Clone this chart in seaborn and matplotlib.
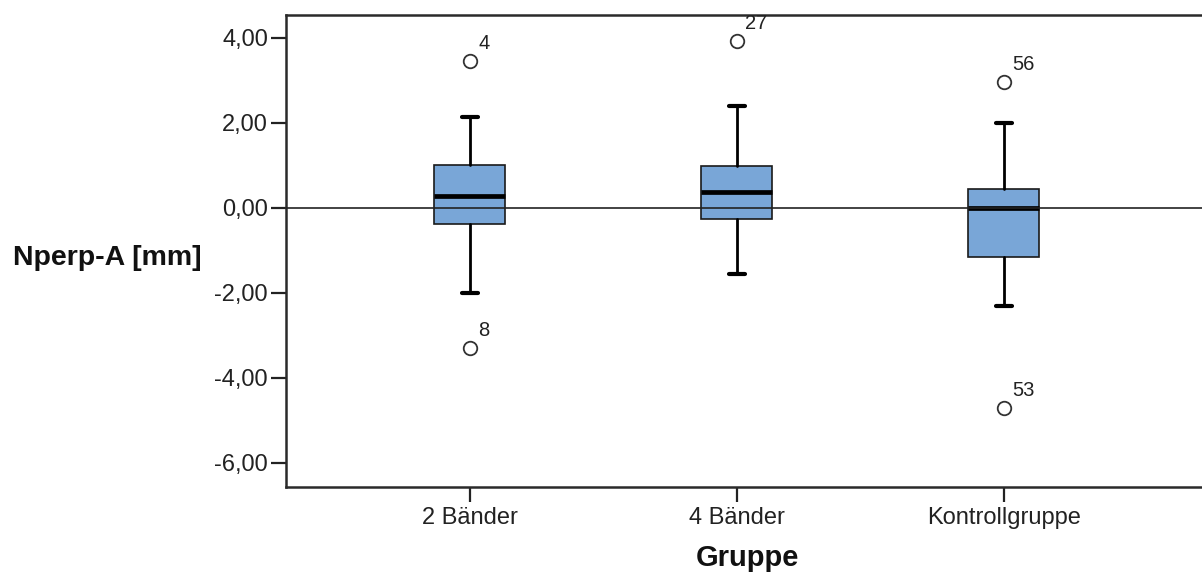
import matplotlib
matplotlib.use("Agg")
import matplotlib.pyplot as plt
import seaborn as sns
import pandas as pd
from matplotlib.ticker import FuncFormatter

# Group names and box-plot summaries (Nperp-A in mm)
groups = ["2 Bänder", "4 Bänder", "Kontrollgruppe"]
whisker_low = [-2.00, -1.55, -2.30]
q1 = [-0.38, -0.26, -1.16]
median = [0.28, 0.37, 0.00]
q3 = [1.01, 0.99, 0.45]
whisker_high = [2.14, 2.40, 2.00]

# Outlying cases with their case numbers
outlier_group = ["2 Bänder", "2 Bänder", "4 Bänder", "Kontrollgruppe", "Kontrollgruppe"]
outlier_value = [3.46, -3.29, 3.94, 2.97, -4.70]
outlier_case = ["4", "8", "27", "56", "53"]

y_ticks = [4.0, 2.0, 0.0, -2.0, -4.0, -6.0]

sns.set_style("white")
plt.rcParams["font.family"] = ["Liberation Sans", "DejaVu Sans"]

fig = plt.figure(figsize=(12.02, 5.80), dpi=100)
ax = fig.add_axes([286 / 1202, 1 - 487 / 580, 1 - 286 / 1202, (487 - 15) / 580])

positions = list(range(len(groups)))
stats = [
    dict(whislo=lo, q1=a, med=m, q3=b, whishi=hi, fliers=[], label=g)
    for g, lo, a, m, b, hi in zip(groups, whisker_low, q1, median, q3, whisker_high)
]
box_color = "#79A6D7"
ax.bxp(
    stats,
    positions=positions,
    widths=0.266,
    patch_artist=True,
    showfliers=False,
    boxprops=dict(facecolor=box_color, edgecolor="#1a1a1a", linewidth=1.2),
    medianprops=dict(color="black", linewidth=3.4, solid_capstyle="butt"),
    whiskerprops=dict(color="black", linewidth=2.0),
    capprops=dict(color="black", linewidth=3.0),
    capwidths=0.06,
    zorder=2,
)

# Reference line at zero
ax.axhline(0, color="#222222", linewidth=1.2, zorder=3)

# Outliers as open circles, labelled with case numbers
pos_of = {g: i for i, g in enumerate(groups)}
out_df = pd.DataFrame({
    "pos": [pos_of[g] for g in outlier_group],
    "value": outlier_value,
    "case": outlier_case,
})
sns.scatterplot(
    data=out_df, x="pos", y="value", ax=ax,
    marker="o", s=95, facecolor="white", edgecolor="#333333", linewidth=1.3,
    zorder=4, legend=False,
)
for _, r in out_df.iterrows():
    ax.annotate(
        r["case"], (r["pos"], r["value"]), xytext=(6.0, 12.5), textcoords="offset points",
        ha="left", va="center", fontsize=14.5, color="#222222",
    )

ax.set_xlim(-0.689, 2.742)
ax.set_ylim(-6.565, 4.541)
ax.set_xticks(positions)
ax.set_xticklabels(groups, fontsize=17, color="#222222")
ax.set_yticks(y_ticks)
ax.yaxis.set_major_formatter(FuncFormatter(lambda v, _: f"{v:.2f}".replace(".", ",")))
ax.tick_params(axis="y", labelsize=17, labelcolor="#222222", length=11, width=1.6,
               color="#222222", direction="out", left=True, pad=2)
ax.tick_params(axis="x", length=10.5, width=1.6, color="#222222", direction="out",
               bottom=True, pad=4)

for side in ["left", "bottom", "top"]:
    ax.spines[side].set_color("#2a2a2a")
    ax.spines[side].set_linewidth(1.8)
ax.spines["right"].set_visible(False)

ax.set_xlabel("Gruppe", fontsize=21, fontweight="bold", color="#111111")
ax.xaxis.set_label_coords((747 - 286) / (1202 - 286), -0.12)
ax.set_ylabel("")
fig.text(13 / 1202, 1 - 258 / 580, "Nperp-A [mm]", ha="left", va="center",
         fontsize=20.5, fontweight="bold", color="#111111")

fig.savefig("out.png", dpi=100)
